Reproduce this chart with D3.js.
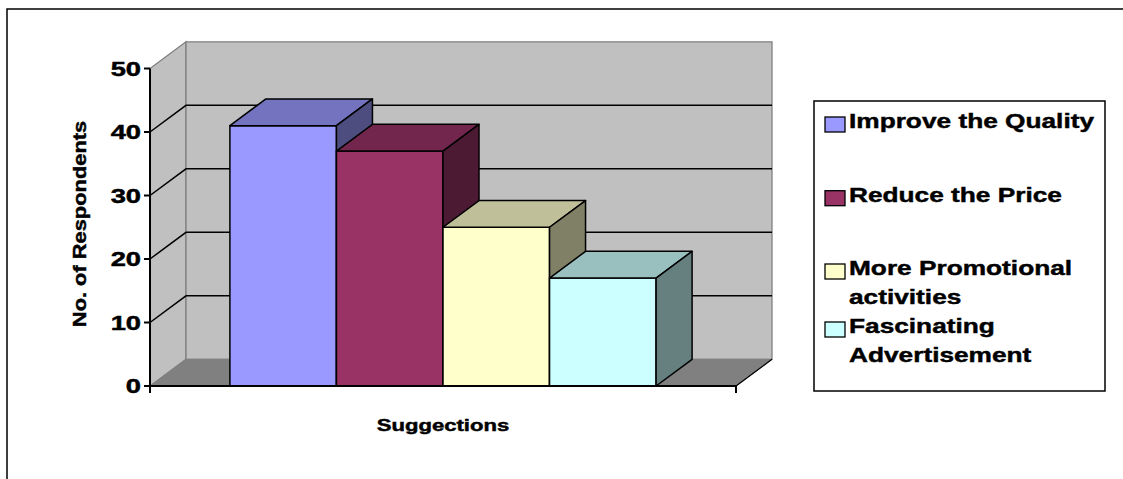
<!DOCTYPE html>
<html>
<head>
<meta charset="utf-8">
<script src="https://cdn.jsdelivr.net/npm/d3@7"></script>
<style>
  html, body { margin: 0; padding: 0; background: #ffffff; }
  svg { display: block; font-family: "Liberation Sans", Arial, sans-serif; font-weight: bold; }
  svg text { stroke: #000; stroke-width: 0.45px; }
</style>
</head>
<body>
<svg id="chart" width="1123" height="479"></svg>
<script>
// ---- data ----
const category = ["Suggections"];
const seriesNames = ["Improve the Quality", "Reduce the Price", "More Promotional activities", "Fascinating Advertisement"];
const seriesValues = [41, 37, 25, 17];
const seriesColors = ["#9999FF", "#993366", "#FFFFCC", "#CCFFFF"];
const yTicks = [0, 10, 20, 30, 40, 50];
const legendLines = [["Improve the Quality"], ["Reduce the Price"], ["More Promotional", "activities"], ["Fascinating", "Advertisement"]];
const yTitle = "No. of Respondents";
const xTitle = "Suggections";

// ---- layout ----
const svg = d3.select("#chart");
const front = { left: 150, right: 736, bottom: 386, top: 68.5 };
const depth = { dx: 36, dy: -26.7 };

const y = d3.scaleLinear().domain([0, 50]).range([front.bottom, front.top]);
const xCat = d3.scaleBand().domain(category).range([front.left, front.right]);
const xSer = d3.scaleBand().domain(seriesNames)
  .range([xCat(category[0]), xCat(category[0]) + xCat.bandwidth()])
  .paddingInner(0).paddingOuter(0.75);

const shade = (c, k) => { const o = d3.rgb(c); return d3.rgb(o.r * k, o.g * k, o.b * k).formatHex(); };
const pts = a => a.map(p => p.join(",")).join(" ");

// outer chart-area border
svg.append("rect").attr("x", 7).attr("y", 9).attr("width", 1200).attr("height", 600)
  .attr("fill", "none").attr("stroke", "#000").attr("stroke-width", 1.5);

const g = svg.append("g");
const y0 = y(0), yMax = y(50);
const L = front.left, R = front.right, dx = depth.dx, dy = depth.dy;

// side wall
g.append("polygon").attr("points", pts([[L, y0], [L + dx, y0 + dy], [L + dx, yMax + dy], [L, yMax]]))
  .attr("fill", "#C0C0C0").attr("stroke", "#808080").attr("stroke-width", 1.3);
// back wall
g.append("polygon").attr("points", pts([[L + dx, y0 + dy], [R + dx, y0 + dy], [R + dx, yMax + dy], [L + dx, yMax + dy]]))
  .attr("fill", "#C0C0C0").attr("stroke", "#808080").attr("stroke-width", 1.3);
// floor
g.append("polygon").attr("points", pts([[L, y0], [R, y0], [R + dx, y0 + dy], [L + dx, y0 + dy]]))
  .attr("fill", "#808080").attr("stroke", "#808080").attr("stroke-width", 1);
g.append("line").attr("x1", R).attr("y1", y0).attr("x2", R + dx).attr("y2", y0 + dy)
  .attr("stroke", "#000").attr("stroke-width", 1.3);

// gridlines on side and back walls
yTicks.filter(t => t > 0 && t < 50).forEach(t => {
  g.append("polyline").attr("points", pts([[L, y(t)], [L + dx, y(t) + dy], [R + dx, y(t) + dy]]))
    .attr("fill", "none").attr("stroke", "#000").attr("stroke-width", 1.5);
});

// 3D bars, painted left to right
seriesNames.forEach((s, i) => {
  const x0 = xSer(s), x1 = x0 + xSer.bandwidth(), yt = y(seriesValues[i]);
  const c = seriesColors[i];
  const bar = g.append("g").attr("stroke", "#000").attr("stroke-width", 1.5).attr("stroke-linejoin", "round");
  bar.append("polygon").attr("points", pts([[x0, y0], [x1, y0], [x1, yt], [x0, yt]])).attr("fill", c);
  bar.append("polygon").attr("points", pts([[x0, yt], [x1, yt], [x1 + dx, yt + dy], [x0 + dx, yt + dy]])).attr("fill", shade(c, 0.75));
  bar.append("polygon").attr("points", pts([[x1, y0], [x1 + dx, y0 + dy], [x1 + dx, yt + dy], [x1, yt]])).attr("fill", shade(c, 0.5));
});

// axes
const axisG = svg.append("g").attr("stroke", "#000").attr("stroke-width", 2);
axisG.append("line").attr("x1", L).attr("y1", yMax).attr("x2", L).attr("y2", y0 + 1);
axisG.append("line").attr("x1", L - 1).attr("y1", y0).attr("x2", R).attr("y2", y0);
yTicks.forEach(t => {
  axisG.append("line").attr("x1", L - 6).attr("y1", y(t)).attr("x2", L).attr("y2", y(t));
});
[L, R].forEach(xv => axisG.append("line").attr("x1", xv).attr("y1", y0).attr("x2", xv).attr("y2", y0 + 7));

// tick labels
svg.append("g").selectAll("text").data(yTicks).join("text")
  .attr("transform", d => `translate(141,${y(d) + 7}) scale(1.4,1)`)
  .attr("text-anchor", "end").attr("font-size", 19.5).attr("fill", "#000")
  .text(d => d);

// axis titles
svg.append("text").attr("transform", "translate(86,224) rotate(-90) scale(1.15,1)")
  .attr("text-anchor", "middle").attr("font-size", 19).attr("fill", "#000").text(yTitle);
svg.append("text").attr("transform", "translate(443,431) scale(1.3,1)")
  .attr("text-anchor", "middle").attr("font-size", 17).attr("fill", "#000").text(xTitle);

// legend
const lg = svg.append("g");
lg.append("rect").attr("x", 814).attr("y", 101).attr("width", 291).attr("height", 290)
  .attr("fill", "#fff").attr("stroke", "#000").attr("stroke-width", 1.5);
const entryBase = [128, 201.7, 275, 333];
const lineGap = 28.7;
legendLines.forEach((lines, i) => {
  const by = entryBase[i];
  lg.append("rect").attr("x", 825).attr("y", by - 11).attr("width", 20).attr("height", 15)
    .attr("fill", seriesColors[i]).attr("stroke", "#000").attr("stroke-width", 1.3);
  lines.forEach((ln, j) => {
    lg.append("text").attr("transform", `translate(849,${by + j * lineGap}) scale(1.25,1)`)
      .attr("font-size", 21).attr("fill", "#000").text(ln);
  });
});
</script>
</body>
</html>
